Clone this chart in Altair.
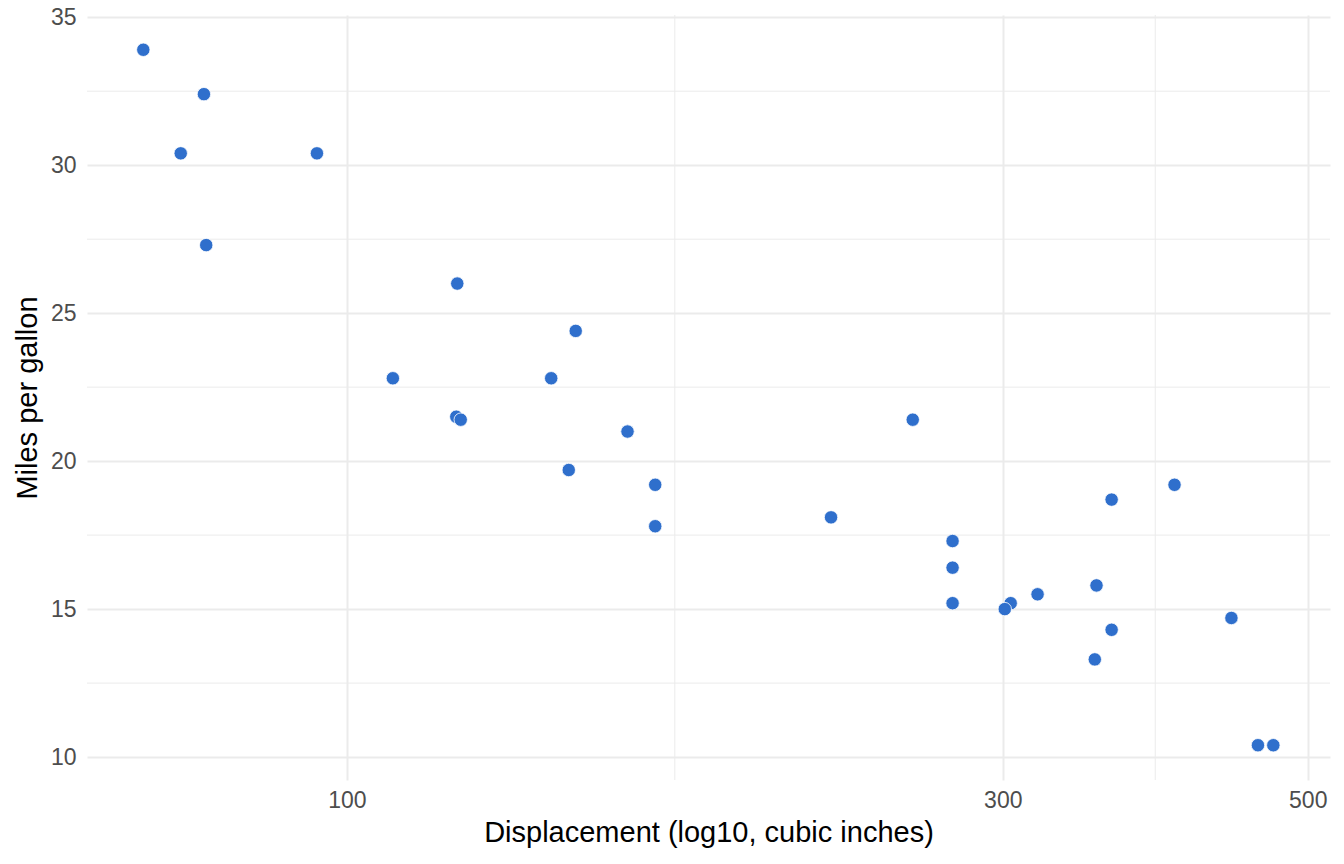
import altair as alt
import pandas as pd

disp = [160, 160, 108, 258, 360, 225, 360, 146.7, 140.8, 167.6, 167.6, 275.8, 275.8, 275.8,
        472, 460, 440, 78.7, 75.7, 71.1, 120.1, 318, 304, 350, 400, 79, 120.3, 95.1, 351, 145, 301, 121]
mpg = [21.0, 21.0, 22.8, 21.4, 18.7, 18.1, 14.3, 24.4, 22.8, 19.2, 17.8, 16.4, 17.3, 15.2,
       10.4, 10.4, 14.7, 32.4, 30.4, 33.9, 21.5, 15.5, 15.2, 13.3, 19.2, 27.3, 26.0, 30.4, 15.8, 19.7, 15.0, 21.4]

x_ticks = [100, 300, 500]
x_minor = [173.2, 387.3]
y_ticks = [10, 15, 20, 25, 30, 35]
y_minor = [12.5, 17.5, 22.5, 27.5, 32.5]

df = pd.DataFrame({"disp": disp, "mpg": mpg})
xscale = alt.Scale(type="log", domain=[64.7, 519], nice=False, zero=False)
yscale = alt.Scale(domain=[9.225, 35.075], nice=False, zero=False)

xaxis = alt.Axis(values=x_ticks, title="Displacement (log10, cubic inches)",
                 format="d", labelPadding=9, titlePadding=6)
yaxis = alt.Axis(values=y_ticks, title="Miles per gallon",
                 labelPadding=11, titlePadding=8)

FONT = "Liberation Sans"

xminor_rules = alt.Chart(pd.DataFrame({"v": x_minor})).mark_rule(
    color="#EBEBEB", strokeWidth=1).encode(x=alt.X("v:Q", scale=xscale, axis=xaxis))
yminor_rules = alt.Chart(pd.DataFrame({"v": y_minor})).mark_rule(
    color="#EBEBEB", strokeWidth=1).encode(y=alt.Y("v:Q", scale=yscale, axis=yaxis))

points = alt.Chart(df).mark_circle(
    size=180, color="#2F6FCC", opacity=1, stroke="white", strokeWidth=0.8
).encode(
    x=alt.X("disp:Q", scale=xscale, axis=xaxis),
    y=alt.Y("mpg:Q", scale=yscale, axis=yaxis),
)

chart = alt.layer(xminor_rules, yminor_rules, points).properties(
    width=1243, height=765,
    autosize=alt.AutoSizeParams(type="none"),
    padding={"left": 87, "top": 15, "right": 14, "bottom": 84},
).configure_view(stroke=None).configure_axis(
    grid=True, gridColor="#EBEBEB", gridWidth=2,
    domain=False, ticks=False,
    labelFont=FONT, labelFontSize=23, labelColor="#4D4D4D",
    titleFont=FONT, titleFontSize=29, titleColor="#000000", titleFontWeight="normal",
).configure_axisY(titleAngle=-90)

chart.save("out.html", embed_options={"renderer": "svg", "actions": False})
